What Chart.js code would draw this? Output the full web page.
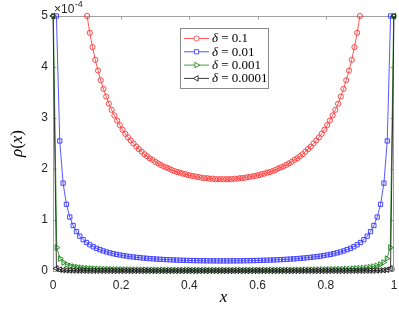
<!DOCTYPE html>
<html>
<head>
<meta charset="utf-8">
<script src="https://cdn.jsdelivr.net/npm/chart.js@4/dist/chart.umd.min.js"></script>
<style>
  html, body { margin: 0; padding: 0; background: #fff; }
  #c { display: block; }
</style>
</head>
<body>
<canvas id="c" width="399" height="313"></canvas>
<script>
var deltaLabels = ["0.1", "0.01", "0.001", "0.0001"];
var xTickLabels = ["0", "0.2", "0.4", "0.6", "0.8", "1"];
var yTickLabels = ["0", "1", "2", "3", "4", "5"];

var xRed = [0.100,0.108,0.116,0.124,0.132,0.140,0.148,0.156,0.164,0.172,
  0.180,0.188,0.196,0.204,0.212,0.220,0.228,0.236,0.244,0.252,
  0.260,0.268,0.276,0.284,0.292,0.300,0.308,0.316,0.324,0.332,
  0.340,0.348,0.356,0.364,0.372,0.380,0.388,0.396,0.404,0.412,
  0.420,0.428,0.436,0.444,0.452,0.460,0.468,0.476,0.484,0.492,
  0.500,0.508,0.516,0.524,0.532,0.540,0.548,0.556,0.564,0.572,
  0.580,0.588,0.596,0.604,0.612,0.620,0.628,0.636,0.644,0.652,
  0.660,0.668,0.676,0.684,0.692,0.700,0.708,0.716,0.724,0.732,
  0.740,0.748,0.756,0.764,0.772,0.780,0.788,0.796,0.804,0.812,
  0.820,0.828,0.836,0.844,0.852,0.860,0.868,0.876,0.884,0.892,
  0.900];
var yRed = [5.00,4.67,4.39,4.14,3.93,3.74,3.57,3.42,3.28,3.16,
  3.05,2.95,2.86,2.77,2.69,2.62,2.56,2.50,2.44,2.39,
  2.34,2.29,2.25,2.21,2.18,2.14,2.11,2.08,2.05,2.03,
  2.01,1.98,1.96,1.94,1.93,1.91,1.90,1.88,1.87,1.86,
  1.85,1.84,1.83,1.82,1.82,1.81,1.81,1.80,1.80,1.80,
  1.80,1.80,1.80,1.80,1.81,1.81,1.82,1.82,1.83,1.84,
  1.85,1.86,1.87,1.88,1.90,1.91,1.93,1.94,1.96,1.98,
  2.01,2.03,2.05,2.08,2.11,2.14,2.18,2.21,2.25,2.29,
  2.34,2.39,2.44,2.50,2.56,2.62,2.69,2.77,2.86,2.95,
  3.05,3.16,3.28,3.42,3.57,3.74,3.93,4.14,4.39,4.67,
  5.00];

var xBlue = [0.0100,0.0198,0.0296,0.0394,0.0492,0.0590,0.0688,0.0786,0.0884,0.0982,
  0.1080,0.1178,0.1276,0.1374,0.1472,0.1570,0.1668,0.1766,0.1864,0.1962,
  0.2060,0.2158,0.2256,0.2354,0.2452,0.2550,0.2648,0.2746,0.2844,0.2942,
  0.3040,0.3138,0.3236,0.3334,0.3432,0.3530,0.3628,0.3726,0.3824,0.3922,
  0.4020,0.4118,0.4216,0.4314,0.4412,0.4510,0.4608,0.4706,0.4804,0.4902,
  0.5000,0.5098,0.5196,0.5294,0.5392,0.5490,0.5588,0.5686,0.5784,0.5882,
  0.5980,0.6078,0.6176,0.6274,0.6372,0.6470,0.6568,0.6666,0.6764,0.6862,
  0.6960,0.7058,0.7156,0.7254,0.7352,0.7450,0.7548,0.7646,0.7744,0.7842,
  0.7940,0.8038,0.8136,0.8234,0.8332,0.8430,0.8528,0.8626,0.8724,0.8822,
  0.8920,0.9018,0.9116,0.9214,0.9312,0.9410,0.9508,0.9606,0.9704,0.9802,
  0.9900];
var yBlue = [5.000,2.550,1.723,1.308,1.058,0.892,0.773,0.683,0.614,0.559,
  0.514,0.476,0.445,0.418,0.394,0.374,0.356,0.340,0.326,0.314,
  0.303,0.292,0.283,0.275,0.267,0.261,0.254,0.249,0.243,0.238,
  0.234,0.230,0.226,0.223,0.220,0.217,0.214,0.212,0.210,0.208,
  0.206,0.204,0.203,0.202,0.201,0.200,0.199,0.199,0.198,0.198,
  0.198,0.198,0.198,0.199,0.199,0.200,0.201,0.202,0.203,0.204,
  0.206,0.208,0.210,0.212,0.214,0.217,0.220,0.223,0.226,0.230,
  0.234,0.238,0.243,0.249,0.254,0.261,0.267,0.275,0.283,0.292,
  0.303,0.314,0.326,0.340,0.356,0.374,0.394,0.418,0.445,0.476,
  0.514,0.559,0.614,0.683,0.773,0.892,1.058,1.308,1.723,2.550,
  5.000];

var xGreen = [0.0010,0.0110,0.0210,0.0309,0.0409,0.0509,0.0609,0.0709,0.0808,0.0908,
  0.1008,0.1108,0.1208,0.1307,0.1407,0.1507,0.1607,0.1707,0.1806,0.1906,
  0.2006,0.2106,0.2206,0.2305,0.2405,0.2505,0.2605,0.2705,0.2804,0.2904,
  0.3004,0.3104,0.3204,0.3303,0.3403,0.3503,0.3603,0.3703,0.3802,0.3902,
  0.4002,0.4102,0.4202,0.4301,0.4401,0.4501,0.4601,0.4701,0.4800,0.4900,
  0.5000,0.5100,0.5200,0.5299,0.5399,0.5499,0.5599,0.5699,0.5798,0.5898,
  0.5998,0.6098,0.6198,0.6297,0.6397,0.6497,0.6597,0.6697,0.6796,0.6896,
  0.6996,0.7096,0.7196,0.7295,0.7395,0.7495,0.7595,0.7695,0.7794,0.7894,
  0.7994,0.8094,0.8194,0.8293,0.8393,0.8493,0.8593,0.8693,0.8792,0.8892,
  0.8992,0.9092,0.9192,0.9291,0.9391,0.9491,0.9591,0.9691,0.9790,0.9890,
  0.9990];
var yGreen = [5.000,0.460,0.243,0.167,0.127,0.103,0.087,0.076,0.067,0.060,
  0.055,0.051,0.047,0.044,0.041,0.039,0.037,0.035,0.034,0.032,
  0.031,0.030,0.029,0.028,0.027,0.027,0.026,0.025,0.025,0.024,
  0.024,0.023,0.023,0.023,0.022,0.022,0.022,0.021,0.021,0.021,
  0.021,0.021,0.020,0.020,0.020,0.020,0.020,0.020,0.020,0.020,
  0.020,0.020,0.020,0.020,0.020,0.020,0.020,0.020,0.020,0.021,
  0.021,0.021,0.021,0.021,0.022,0.022,0.022,0.023,0.023,0.023,
  0.024,0.024,0.025,0.025,0.026,0.027,0.027,0.028,0.029,0.030,
  0.031,0.032,0.034,0.035,0.037,0.039,0.041,0.044,0.047,0.051,
  0.055,0.060,0.067,0.076,0.087,0.103,0.127,0.167,0.243,0.460,
  5.000];

var xBlack = [0.0001,0.0101,0.0201,0.0301,0.0401,0.0501,0.0601,0.0701,0.0801,0.0901,
  0.1001,0.1101,0.1201,0.1301,0.1401,0.1501,0.1601,0.1701,0.1801,0.1901,
  0.2001,0.2101,0.2201,0.2301,0.2401,0.2501,0.2601,0.2701,0.2801,0.2901,
  0.3001,0.3101,0.3201,0.3301,0.3401,0.3501,0.3601,0.3701,0.3801,0.3901,
  0.4001,0.4101,0.4201,0.4301,0.4401,0.4501,0.4601,0.4701,0.4801,0.4901,
  0.5000,0.5099,0.5199,0.5299,0.5399,0.5499,0.5599,0.5699,0.5799,0.5899,
  0.5999,0.6099,0.6199,0.6299,0.6399,0.6499,0.6599,0.6699,0.6799,0.6899,
  0.6999,0.7099,0.7199,0.7299,0.7399,0.7499,0.7599,0.7699,0.7799,0.7899,
  0.7999,0.8099,0.8199,0.8299,0.8399,0.8499,0.8599,0.8699,0.8799,0.8899,
  0.8999,0.9099,0.9199,0.9299,0.9399,0.9499,0.9599,0.9699,0.9799,0.9899,
  0.9999];
var yBlack = [5.000,0.050,0.025,0.017,0.013,0.011,0.009,0.008,0.007,0.006,
  0.006,0.005,0.005,0.004,0.004,0.004,0.004,0.004,0.003,0.003,
  0.003,0.003,0.003,0.003,0.003,0.003,0.003,0.003,0.002,0.002,
  0.002,0.002,0.002,0.002,0.002,0.002,0.002,0.002,0.002,0.002,
  0.002,0.002,0.002,0.002,0.002,0.002,0.002,0.002,0.002,0.002,
  0.002,0.002,0.002,0.002,0.002,0.002,0.002,0.002,0.002,0.002,
  0.002,0.002,0.002,0.002,0.002,0.002,0.002,0.002,0.002,0.002,
  0.002,0.002,0.003,0.003,0.003,0.003,0.003,0.003,0.003,0.003,
  0.003,0.003,0.004,0.004,0.004,0.004,0.004,0.005,0.005,0.006,
  0.006,0.006,0.007,0.008,0.009,0.011,0.013,0.017,0.025,0.050,
  5.000];

var RED = "#ff4545", BLUE = "#4545ff", GREEN = "#2a8f2a", BLACK = "#222222";
var AXIS = "#a0a0a0", TEXT = "#262626";

function pairs(xs, ys) {
  return xs.map(function (x, i) { return { x: x, y: ys[i] }; });
}

var series = [
  { xs: xRed,   ys: yRed,   color: RED,   style: "circle",   radius: 2.6, rot: 0 },
  { xs: xBlue,  ys: yBlue,  color: BLUE,  style: "rect",     radius: 3.0, rot: 0 },
  { xs: xGreen, ys: yGreen, color: GREEN, style: "triangle", radius: 3.2, rot: 90 },
  { xs: xBlack, ys: yBlack, color: BLACK, style: "triangle", radius: 3.2, rot: -90 }
];

// box, inward ticks (MATLAB look)
var frame = {
  id: "frame",
  beforeDatasetsDraw: function (chart) {
    var ctx = chart.ctx, a = chart.chartArea, sx = chart.scales.x, sy = chart.scales.y;
    ctx.save();
    ctx.strokeStyle = AXIS;
    ctx.lineWidth = 1;
    ctx.strokeRect(Math.round(a.left) + 0.5, Math.round(a.top) + 0.5,
      Math.round(a.right - a.left) - 1, Math.round(a.bottom - a.top));
    ctx.beginPath();
    sx.ticks.forEach(function (t) {
      var px = Math.round(sx.getPixelForValue(t.value)) + 0.5;
      ctx.moveTo(px, a.bottom); ctx.lineTo(px, a.bottom - 3.5);
      ctx.moveTo(px, a.top); ctx.lineTo(px, a.top + 3.5);
    });
    sy.ticks.forEach(function (t) {
      var py = Math.round(sy.getPixelForValue(t.value)) + 0.5;
      ctx.moveTo(a.left, py); ctx.lineTo(a.left + 3.5, py);
      ctx.moveTo(a.right, py); ctx.lineTo(a.right - 3.5, py);
    });
    ctx.stroke();
    ctx.restore();
  },
  afterDraw: function (chart) {
    var ctx = chart.ctx, a = chart.chartArea;
    ctx.save();
    ctx.fillStyle = TEXT;
    ctx.textBaseline = "alphabetic";

    // exponent label
    ctx.font = "12px 'Liberation Sans'";
    ctx.textAlign = "left";
    ctx.fillText("\u00d710", a.left + 1, 13);
    var w = ctx.measureText("\u00d710").width;
    ctx.font = "9px 'Liberation Sans'";
    ctx.fillText("-4", a.left + 1 + w + 0.5, 7);

    // axis titles
    ctx.fillStyle = "#000";
    ctx.font = "italic 17px 'Liberation Serif'";
    ctx.textAlign = "center";
    ctx.fillText("x", (a.left + a.right) / 2, 302);

    ctx.save();
    ctx.translate(22, (a.top + a.bottom) / 2);
    ctx.rotate(-Math.PI / 2);
    var parts = [["\u03c1", true], ["(", false], ["x", true], [")", false]];
    var total = 0;
    parts.forEach(function (p) {
      ctx.font = (p[1] ? "italic " : "") + "17px 'Liberation Serif'";
      total += ctx.measureText(p[0]).width;
    });
    var cx = -total / 2;
    ctx.textAlign = "left";
    parts.forEach(function (p) {
      ctx.font = (p[1] ? "italic " : "") + "17px 'Liberation Serif'";
      ctx.fillText(p[0], cx, 0);
      cx += ctx.measureText(p[0]).width;
    });
    ctx.restore();

    // legend
    var lx = 180.5, ly = 28.5, lw = 88, lh = 60, row = 13.3;
    ctx.fillStyle = "#fff";
    ctx.fillRect(lx, ly, lw, lh);
    ctx.strokeStyle = "#8a8a8a";
    ctx.lineWidth = 1;
    ctx.strokeRect(lx, ly, lw, lh);
    series.forEach(function (s, i) {
      var y = ly + 10 + i * row;
      ctx.strokeStyle = s.color;
      ctx.lineWidth = 0.9;
      ctx.beginPath(); ctx.moveTo(184, y); ctx.lineTo(209, y); ctx.stroke();
      ctx.fillStyle = "#fff";
      Chart.helpers.drawPoint(ctx, { pointStyle: s.style, radius: s.radius, rotation: s.rot, borderWidth: 1 }, 196.5, y);
      ctx.fillStyle = "#000";
      ctx.font = "italic 13px 'Liberation Serif'";
      ctx.textAlign = "left";
      ctx.textBaseline = "middle";
      ctx.fillText("\u03b4", 212, y + 0.5);
      var dw = ctx.measureText("\u03b4").width;
      ctx.font = "13px 'Liberation Serif'";
      ctx.fillText(" = " + deltaLabels[i], 212 + dw, y + 0.5);
    });
    ctx.restore();
  }
};

new Chart(document.getElementById("c"), {
  type: "line",
  data: {
    datasets: series.map(function (s, i) {
      return {
        label: "\u03b4 = " + deltaLabels[i],
        data: pairs(s.xs, s.ys),
        order: 4 - i,
        borderColor: s.color,
        borderWidth: 0.9,
        tension: 0,
        fill: false,
        clip: false,
        pointStyle: s.style,
        pointRadius: s.radius,
        pointRotation: s.rot,
        pointBorderWidth: 1,
        pointBorderColor: s.color,
        pointBackgroundColor: "rgba(0,0,0,0)"
      };
    })
  },
  options: {
    responsive: false, animation: false, events: [],
    devicePixelRatio: 1,
    layout: { padding: { top: 16, right: 3, left: 0, bottom: 0 } },
    plugins: { legend: { display: false }, tooltip: { enabled: false } },
    scales: {
      x: {
        type: "linear", min: 0, max: 1,
        afterFit: function (s) { s.height = 42; s.paddingLeft = 0; s.paddingRight = 0; },
        grid: { display: false, drawTicks: false },
        border: { display: false },
        ticks: {
          stepSize: 0.2, padding: 7, color: TEXT,
          font: { family: "'Liberation Sans'", size: 12 },
          callback: function (v, i) { return xTickLabels[i]; }
        }
      },
      y: {
        type: "linear", min: 0, max: 5,
        afterFit: function (s) { s.width = 53; s.paddingTop = 0; s.paddingBottom = 0; },
        grid: { display: false, drawTicks: false },
        border: { display: false },
        ticks: {
          stepSize: 1, padding: 5, color: TEXT,
          font: { family: "'Liberation Sans'", size: 12 },
          callback: function (v, i) { return yTickLabels[i]; }
        }
      }
    }
  },
  plugins: [frame]
});
</script>
</body>
</html>
